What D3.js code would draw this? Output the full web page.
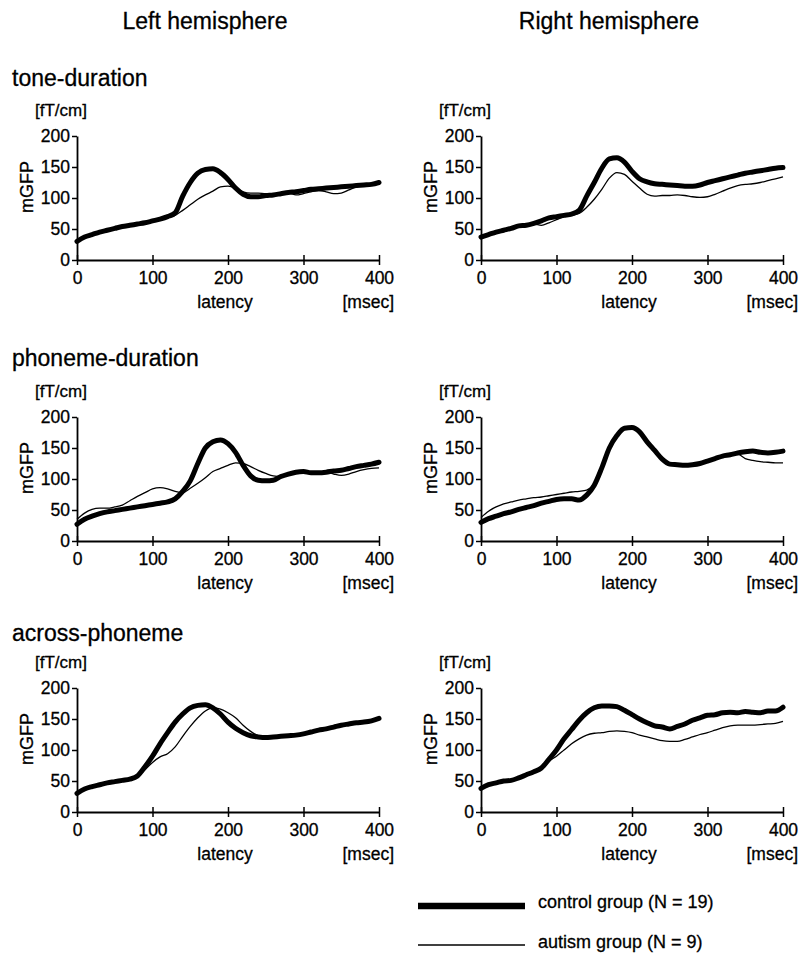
<!DOCTYPE html>
<html>
<head>
<meta charset="utf-8">
<script src="https://cdn.jsdelivr.net/npm/d3@7"></script>
<style>
  body { margin: 0; background: #fff; }
  svg { display: block; font-family: "Liberation Sans", Arial, sans-serif; }
  text { fill: #000; stroke: #000; stroke-width: 0.3px; }
</style>
</head>
<body>
<div id="chart"></div>
<script>
// latency in msec, one sample every 10 ms
const latency = d3.range(0, 401, 10);
const xTicks = [0, 100, 200, 300, 400];
const yTicks = [0, 50, 100, 150, 200];

const rowTitles = ["tone-duration", "phoneme-duration", "across-phoneme"];
const colTitles = ["Left hemisphere", "Right hemisphere"];
const legendLabels = ["control group (N = 19)", "autism group (N = 9)"];

// mGFP values [fT/cm]
const toneLeftControl = [30, 37, 41, 45, 48, 51, 54, 56, 58, 60, 63, 66, 70, 76, 103, 125, 140, 146, 147, 141, 130, 116, 106, 102, 102, 104, 105, 107, 109, 110, 112, 114, 115, 116, 117, 118, 119, 120, 121, 122, 125];
const toneLeftAutism = [30, 36, 41, 45, 48, 51, 54, 56, 58, 60, 62, 65, 68, 72, 80, 89, 98, 105, 111, 118, 119, 116, 110, 108, 108, 107, 107, 108, 108, 105, 107, 110, 112, 110, 107, 108, 113, 118, 120, 121, 124];
const toneRightControl = [37, 41, 45, 48, 51, 55, 56, 59, 63, 68, 70, 72, 74, 80, 103, 125, 148, 163, 165, 158, 143, 131, 126, 123, 122, 121, 120, 119, 119, 121, 125, 128, 131, 134, 137, 140, 142, 144, 146, 148, 149];
const toneRightAutism = [37, 41, 45, 48, 51, 54, 56, 58, 56, 60, 65, 70, 72, 75, 85, 98, 114, 132, 141, 138, 127, 116, 106, 103, 104, 104, 105, 104, 102, 101, 102, 106, 111, 116, 120, 122, 123, 125, 128, 131, 134];
const phonLeftControl = [27, 35, 40, 44, 47, 49, 51, 53, 55, 57, 59, 61, 63, 68, 80, 97, 125, 150, 160, 163, 157, 143, 122, 105, 98, 97, 98, 104, 108, 111, 112, 110, 110, 111, 113, 114, 117, 120, 122, 124, 127];
const phonLeftAutism = [35, 45, 51, 53, 53, 55, 58, 65, 72, 78, 84, 86, 84, 80, 78, 85, 93, 102, 112, 117, 122, 126, 125, 120, 114, 109, 105, 104, 107, 110, 112, 110, 110, 111, 108, 106, 108, 112, 115, 117, 118];
const phonRightControl = [30, 36, 40, 44, 47, 51, 54, 57, 61, 64, 67, 68, 68, 66, 74, 90, 118, 150, 170, 182, 183, 176, 160, 146, 132, 124, 123, 122, 123, 125, 129, 133, 137, 139, 142, 144, 145, 143, 142, 143, 145];
const phonRightAutism = [38, 48, 55, 60, 63, 66, 68, 70, 71, 73, 75, 77, 79, 80, 82, 92, 118, 150, 170, 182, 183, 176, 160, 146, 132, 124, 123, 122, 123, 125, 129, 133, 137, 139, 140, 133, 130, 128, 127, 126, 126];
const acrossLeftControl = [30, 37, 41, 44, 47, 49, 51, 53, 58, 73, 90, 110, 128, 145, 158, 168, 172, 173, 168, 158, 145, 135, 128, 123, 121, 120, 121, 122, 123, 124, 126, 129, 132, 134, 137, 140, 142, 144, 145, 147, 151];
const acrossLeftAutism = [30, 37, 41, 44, 47, 49, 51, 53, 58, 68, 80, 89, 94, 105, 122, 138, 152, 163, 168, 166, 160, 152, 140, 130, 123, 120, 120, 122, 123, 124, 126, 129, 132, 134, 137, 140, 142, 144, 145, 147, 151];
const acrossRightControl = [38, 44, 47, 50, 51, 55, 60, 65, 71, 85, 100, 118, 133, 148, 160, 168, 171, 171, 170, 164, 157, 150, 144, 139, 137, 134, 138, 142, 148, 152, 156, 157, 160, 161, 160, 162, 161, 160, 163, 163, 169];
const acrossRightAutism = [38, 44, 47, 50, 51, 55, 60, 65, 71, 82, 90, 100, 110, 118, 124, 127, 128, 130, 131, 130, 128, 124, 121, 118, 115, 114, 114, 117, 121, 125, 128, 132, 136, 139, 140, 140, 140, 141, 142, 143, 146];

const panels = [
    {row: 0, col: 0, control: toneLeftControl, autism: toneLeftAutism},
    {row: 0, col: 1, control: toneRightControl, autism: toneRightAutism},
    {row: 1, col: 0, control: phonLeftControl, autism: phonLeftAutism},
    {row: 1, col: 1, control: phonRightControl, autism: phonRightAutism},
    {row: 2, col: 0, control: acrossLeftControl, autism: acrossLeftAutism},
    {row: 2, col: 1, control: acrossRightControl, autism: acrossRightAutism}
];

const width = 802, height = 953;
const colLeft = [77, 481];
const plotWidth = 302;
const rowTop = [136, 417, 688];
const plotHeight = 124;

const svg = d3.select("#chart").append("svg")
    .attr("width", width)
    .attr("height", height);

// column headers
svg.selectAll(".coltitle")
    .data(colTitles)
    .enter().append("text")
    .attr("class", "coltitle")
    .attr("x", (d, i) => [205, 609][i])
    .attr("y", 29)
    .attr("text-anchor", "middle")
    .style("font-size", "23px")
    .text(d => d);

// row titles
svg.selectAll(".rowtitle")
    .data(rowTitles)
    .enter().append("text")
    .attr("class", "rowtitle")
    .attr("x", 12)
    .attr("y", (d, i) => [86, 366, 641][i])
    .style("font-size", "23px")
    .text(d => d);

const x = d3.scaleLinear().domain([0, 400]).range([0, plotWidth]);
const y = d3.scaleLinear().domain([0, 200]).range([plotHeight, 0]);

const line = d3.line()
    .x((d, i) => x(latency[i]))
    .y(d => y(d))
    .curve(d3.curveMonotoneX);

panels.forEach(function(p) {
    const g = svg.append("g")
        .attr("transform", "translate(" + colLeft[p.col] + "," + rowTop[p.row] + ")");

    // y axis
    const yAxis = g.append("g")
        .call(d3.axisLeft(y).tickValues(yTicks).tickSize(5).tickPadding(2).tickSizeOuter(0));
    yAxis.select(".domain").attr("stroke-width", 1.8);
    yAxis.selectAll(".tick line").attr("stroke-width", 1.5);
    yAxis.selectAll("text").style("font-size", "17.5px").attr("font-family", null);

    // x axis, ticks cross the line
    const xAxis = g.append("g")
        .attr("transform", "translate(0," + plotHeight + ")")
        .call(d3.axisBottom(x).tickValues(xTicks).tickSize(5).tickPadding(7).tickSizeOuter(0));
    xAxis.select(".domain").attr("stroke-width", 1.8);
    xAxis.selectAll(".tick line").attr("y1", -5).attr("stroke-width", 1.5);
    xAxis.selectAll("text").style("font-size", "17.5px").attr("font-family", null);

    g.append("text")
        .attr("x", -42)
        .attr("y", -20)
        .style("font-size", "17px")
        .text("[fT/cm]");

    g.append("text")
        .attr("transform", "translate(-44," + (plotHeight / 2 - 11) + ") rotate(-90)")
        .attr("text-anchor", "middle")
        .style("font-size", "18px")
        .text("mGFP");

    g.append("text")
        .attr("x", 148)
        .attr("y", plotHeight + 48)
        .attr("text-anchor", "middle")
        .style("font-size", "17.5px")
        .text("latency");

    g.append("text")
        .attr("x", plotWidth + 15)
        .attr("y", plotHeight + 48)
        .attr("text-anchor", "end")
        .style("font-size", "17.5px")
        .text("[msec]");

    g.append("path")
        .datum(p.autism)
        .attr("fill", "none")
        .attr("stroke", "#000")
        .attr("stroke-width", 1.3)
        .attr("d", line);

    g.append("path")
        .datum(p.control)
        .attr("fill", "none")
        .attr("stroke", "#000")
        .attr("stroke-width", 5)
        .attr("stroke-linejoin", "round")
        .attr("stroke-linecap", "round")
        .attr("d", line);
});

// legend
const legend = svg.append("g").attr("transform", "translate(418,0)");
const legendY = [906, 945];
const legendWidth = [6.5, 1.5];

legendLabels.forEach(function(label, i) {
    legend.append("line")
        .attr("x1", 0)
        .attr("x2", 107)
        .attr("y1", legendY[i])
        .attr("y2", legendY[i])
        .attr("stroke", "#000")
        .attr("stroke-width", legendWidth[i]);
    legend.append("text")
        .attr("x", 120)
        .attr("y", legendY[i] + (i == 0 ? 2 : 3))
        .style("font-size", "18px")
        .text(label);
});
</script>
</body>
</html>
